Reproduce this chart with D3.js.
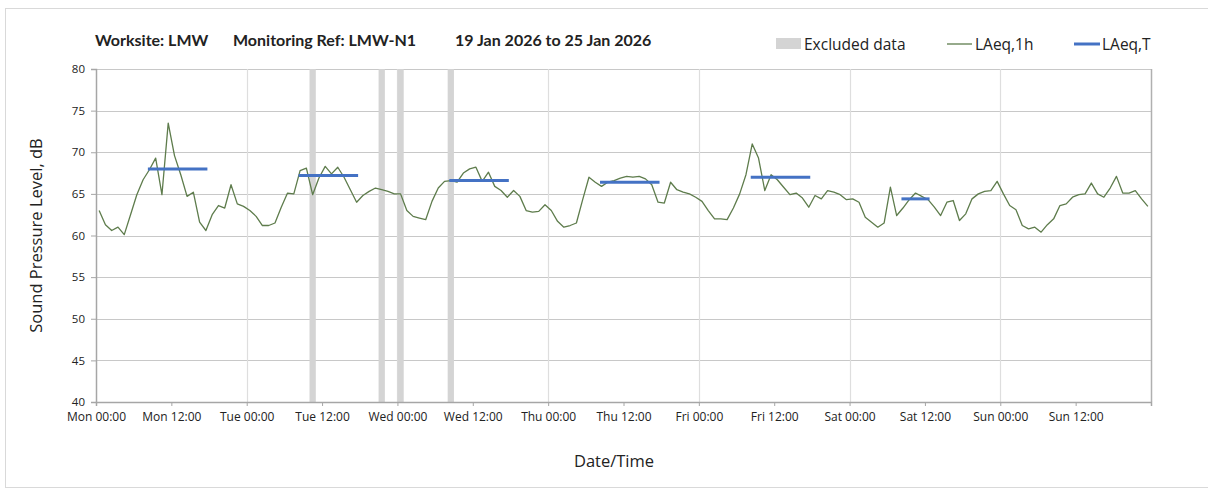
<!DOCTYPE html>
<html>
<head>
<meta charset="utf-8">
<script src="https://cdn.jsdelivr.net/npm/d3@7"></script>
<style>
  html, body { margin: 0; padding: 0; background: #fff; }
  svg { display: block; }
  text { fill: #222; }
</style>
</head>
<body>
<svg id="chart" width="1208" height="496"></svg>
<script>
// hourly LAeq,1h values, Mon 00:00 .. Sun 23:00 (plotted mid-hour)
var laeq1h = [
  63.0, 61.3, 60.6, 61.0, 60.1, 62.5, 64.9, 66.7, 67.9, 69.3, 64.9, 73.5, 69.6, 67.3, 64.7, 65.2, 61.6, 60.6, 62.5, 63.6, 63.3, 66.1, 63.8, 63.5, 63.0, 62.3, 61.2, 61.2,
  61.5, 63.4, 65.1, 65.0, 67.8, 68.1, 64.9, 66.9, 68.3, 67.4, 68.2, 67.0, 65.5, 64.0, 64.8, 65.3, 65.7, 65.5, 65.3, 65.0, 65.0, 63.0, 62.3, 62.1, 61.9, 64.1, 65.7, 66.5,
  66.6, 66.4, 67.5, 68.0, 68.2, 66.5, 67.6, 65.9, 65.4, 64.6, 65.4, 64.7, 63.0, 62.8, 62.9, 63.7, 63.0, 61.7, 61.0, 61.2, 61.5, 64.3, 67.0, 66.4, 65.9, 66.4, 66.6, 66.9,
  67.1, 67.0, 67.1, 66.8, 66.1, 64.0, 63.9, 66.4, 65.5, 65.2, 65.0, 64.6, 64.1, 63.0, 62.0, 62.0, 61.9, 63.3, 65.0, 67.3, 71.0, 69.3, 65.4, 67.3, 66.7, 65.8, 64.9, 65.1,
  64.5, 63.4, 64.8, 64.4, 65.4, 65.2, 64.9, 64.3, 64.4, 64.0, 62.2, 61.6, 61.0, 61.5, 65.8, 62.4, 63.3, 64.3, 65.1, 64.7, 64.3, 63.4, 62.4, 64.0, 64.2, 61.8, 62.6, 64.4,
  65.0, 65.3, 65.4, 66.5, 65.0, 63.6, 63.1, 61.2, 60.8, 61.0, 60.4, 61.3, 62.0, 63.6, 63.8, 64.6, 64.9, 65.0, 66.3, 65.0, 64.6, 65.7, 67.1, 65.1, 65.1, 65.4, 64.4, 63.5
];

// LAeq,T periods (hours from Mon 00:00)
var periodStart = [8.5, 32.5, 56.5, 80.5, 104.5, 128.5];
var periodEnd = [17.5, 41.5, 65.5, 89.5, 113.5, 132.5];
var periodValue = [68.0, 67.2, 66.6, 66.4, 67.0, 64.4];

// excluded hours (hour index from Mon 00:00)
var excludedHours = [34, 45, 48, 56];

var tickLabels = ['Mon 00:00', 'Mon 12:00', 'Tue 00:00', 'Tue 12:00', 'Wed 00:00', 'Wed 12:00',
  'Thu 00:00', 'Thu 12:00', 'Fri 00:00', 'Fri 12:00', 'Sat 00:00', 'Sat 12:00', 'Sun 00:00', 'Sun 12:00'];
var yTicks = [40, 45, 50, 55, 60, 65, 70, 75, 80];

var titleParts = ['Worksite: LMW', 'Monitoring Ref: LMW-N1', '19 Jan 2026 to 25 Jan 2026'];
var titleX = [95, 233, 455];

var svg = d3.select('#chart');
var font = "'Open Sans', 'Noto Sans', sans-serif";

var plot = { left: 96, right: 1151, top: 69, bottom: 402 };

var x = d3.scaleLinear().domain([0, 168]).range([plot.left, plot.right]);
var y = d3.scaleLinear().domain([40, 80]).range([plot.bottom, plot.top]);

// outer frame
svg.append('rect')
  .attr('x', 5.5).attr('y', 8.5).attr('width', 1210).attr('height', 479)
  .attr('fill', 'none').attr('stroke', '#d9d9d9');

// horizontal gridlines
svg.append('g').selectAll('line')
  .data(yTicks.slice(1))
  .enter().append('line')
  .attr('x1', plot.left).attr('x2', plot.right)
  .attr('y1', d => Math.round(y(d)) + 0.5).attr('y2', d => Math.round(y(d)) + 0.5)
  .attr('stroke', '#c8c8c8').attr('stroke-width', 1.2);

// vertical gridlines at each day start
svg.append('g').selectAll('line')
  .data(d3.range(24, 169, 24))
  .enter().append('line')
  .attr('x1', d => Math.round(x(d)) + 0.5).attr('x2', d => Math.round(x(d)) + 0.5)
  .attr('y1', plot.top).attr('y2', plot.bottom)
  .attr('stroke', d => d === 168 ? '#b0b0b0' : '#dedede').attr('stroke-width', d => d === 168 ? 1.5 : 1.2);

// excluded data
svg.append('g').selectAll('rect')
  .data(excludedHours)
  .enter().append('rect')
  .attr('x', d => x(d)).attr('width', d => x(d + 1) - x(d))
  .attr('y', plot.top).attr('height', plot.bottom - plot.top)
  .attr('fill', '#d4d4d4');

// axes
var xAxis = svg.append('g')
  .attr('transform', 'translate(0,' + plot.bottom + ')')
  .call(d3.axisBottom(x).tickValues(d3.range(0, 168, 12)).tickSize(4)
    .tickFormat((d, i) => tickLabels[i]));
xAxis.select('.domain').attr('stroke', '#a6a6a6').attr('stroke-width', 1.5);
xAxis.selectAll('.tick line').attr('stroke', '#a6a6a6');
xAxis.selectAll('.tick text')
  .attr('font-family', font).attr('font-size', 12).attr('fill', '#404040').attr('dy', '1.0em');

var yAxis = svg.append('g')
  .attr('transform', 'translate(' + plot.left + ',0)')
  .call(d3.axisLeft(y).tickValues(yTicks).tickSize(5).tickPadding(6));
yAxis.select('.domain').attr('stroke', '#a6a6a6').attr('stroke-width', 1.5);
yAxis.selectAll('.tick line').attr('stroke', '#a6a6a6');
yAxis.selectAll('.tick text')
  .attr('font-family', font).attr('font-size', 11.5).attr('fill', '#404040');

// LAeq,1h line
var line = d3.line()
  .x((d, i) => x(i + 0.5))
  .y(d => y(d));

svg.append('path')
  .datum(laeq1h)
  .attr('d', line)
  .attr('fill', 'none')
  .attr('stroke', '#5e7c4c')
  .attr('stroke-width', 1.3)
  .attr('stroke-linejoin', 'round');

// LAeq,T segments
svg.append('g').selectAll('line')
  .data(periodValue)
  .enter().append('line')
  .attr('x1', (d, i) => x(periodStart[i])).attr('x2', (d, i) => x(periodEnd[i]))
  .attr('y1', d => y(d)).attr('y2', d => y(d))
  .attr('stroke', '#4472c4').attr('stroke-width', 3).attr('stroke-linecap', 'square');

// title
svg.append('g').selectAll('text')
  .data(titleParts)
  .enter().append('text')
  .attr('x', (d, i) => titleX[i]).attr('y', 46)
  .attr('font-family', "Lato, 'Open Sans', sans-serif")
  .attr('font-weight', 'bold').attr('font-size', 16)
  .text(d => d);

// legend
var legend = svg.append('g').attr('font-family', font).attr('font-size', 15.5);
legend.append('rect').attr('x', 776).attr('y', 38).attr('width', 25).attr('height', 11).attr('fill', '#d4d4d4');
legend.append('text').attr('x', 804).attr('y', 50).text('Excluded data');
legend.append('line').attr('x1', 947).attr('x2', 972).attr('y1', 44).attr('y2', 44)
  .attr('stroke', '#5e7c4c').attr('stroke-width', 1.3);
legend.append('text').attr('x', 975).attr('y', 50).text('LAeq,1h');
legend.append('line').attr('x1', 1074).attr('x2', 1100).attr('y1', 44).attr('y2', 44)
  .attr('stroke', '#4472c4').attr('stroke-width', 3);
legend.append('text').attr('x', 1102).attr('y', 50).text('LAeq,T');

// axis titles
svg.append('text')
  .attr('transform', 'translate(42,' + ((plot.top + plot.bottom) / 2) + ') rotate(-90)')
  .attr('text-anchor', 'middle')
  .attr('font-family', font).attr('font-size', 16.5).attr('fill', '#333')
  .text('Sound Pressure Level, dB');

svg.append('text')
  .attr('x', 614).attr('y', 467)
  .attr('text-anchor', 'middle')
  .attr('font-family', font).attr('font-size', 16.5).attr('fill', '#333')
  .text('Date/Time');
</script>
</body>
</html>
